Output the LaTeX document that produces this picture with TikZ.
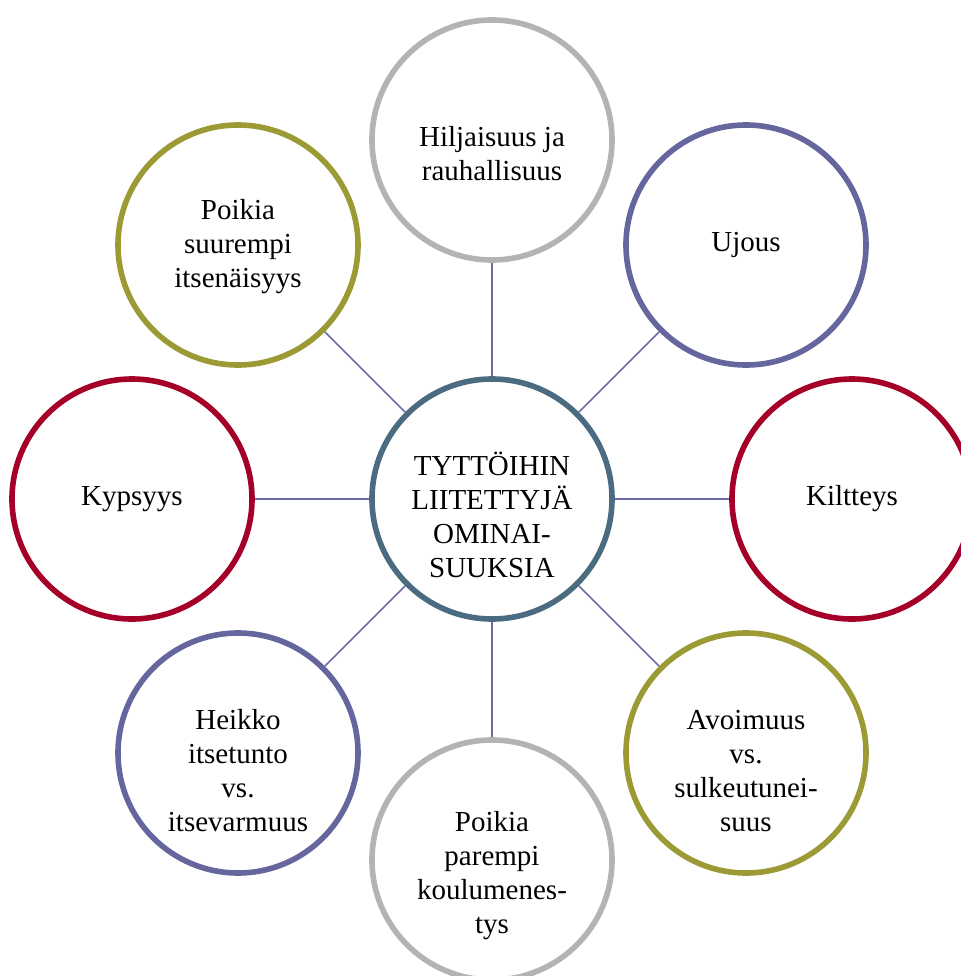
\documentclass[tikz,border=0pt]{standalone}
\usepackage{fontspec}
\setmainfont{Liberation Serif}
\usepackage{tikz}

\definecolor{coreblue}{HTML}{4A6B80}
\definecolor{softgrey}{HTML}{B3B3B3}
\definecolor{violet}{HTML}{66669E}
\definecolor{wine}{HTML}{A50027}
\definecolor{olive}{HTML}{9C9A34}
\definecolor{linkc}{HTML}{6A6AA6}

\begin{document}
\begin{tikzpicture}
[x=0.5pt,y=-0.5pt]
\tikzset{circ/.style={circle,draw,line width=2.8pt,minimum size=120pt,fill=white}}
\tikzset{txt/.style={align=center,font=\fontsize{14.5}{17}\selectfont}}
\useasboundingbox (0,0) rectangle (961,976);
\clip (0,0) rectangle (961,976);

\node [circ,draw=coreblue] (core) at (492,499) {};
\node [circ,draw=softgrey] (calm) at (492,140) {};
\node [circ,draw=violet] (shy) at (746,245) {};
\node [circ,draw=wine] (nice) at (852,499) {};
\node [circ,draw=olive] (open) at (746,753) {};
\node [circ,draw=softgrey] (school) at (492,860) {};
\node [circ,draw=violet] (self) at (238,753) {};
\node [circ,draw=wine] (mature) at (132,499) {};
\node [circ,draw=olive] (indep) at (238,245) {};

\node [txt] (coretxt) at ([yshift=-8pt]core) {TYTTÖIHIN\\LIITETTYJÄ\\OMINAI-\\SUUKSIA};
\node [txt] (calmtxt) at ([yshift=-7pt]calm) {Hiljaisuus ja\\rauhallisuus};
\node [txt] (shytxt) at (shy) {Ujous};
\node [txt] (nicetxt) at (nice) {Kiltteys};
\node [txt] (opentxt) at ([yshift=-9pt]open) {Avoimuus\\vs.\\sulkeutunei-\\suus};
\node [txt] (schooltxt) at ([yshift=-8pt]school) {Poikia\\parempi\\koulumenes-\\tys};
\node [txt] (selftxt) at ([yshift=-9pt]self) {Heikko\\itsetunto\\vs.\\itsevarmuus};
\node [txt] (maturetxt) at (mature) {Kypsyys};
\node [txt] (indeptxt) at ([yshift=-1pt]indep) {Poikia\\suurempi\\itsenäisyys};

\foreach \to in {calm,shy,nice,open,school,self,mature,indep}
	\draw [linkc,line width=0.75pt] (core) -- (\to);

\end{tikzpicture}
\end{document}
